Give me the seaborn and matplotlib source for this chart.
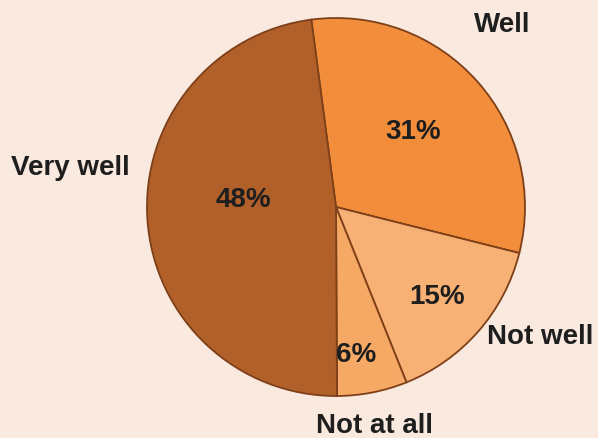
import matplotlib.pyplot as plt
import seaborn as sns

labels = ["Well", "Not well", "Not at all", "Very well"]
shares = [31, 15, 6, 48]
colors = ["#F28D3C", "#F7B174", "#F6A865", "#B2602A"]

# text placement (pixel coords, origin top-left)
label_pos = [(502, 25), (540, 337), (374, 426), (70, 168)]
pct_pos = [(413, 132), (437, 297), (356, 355), (243, 200)]

sns.set_theme(style="white")
plt.rcParams["font.family"] = ["Liberation Sans", "DejaVu Sans"]

W, H = 598, 438
fig = plt.figure(figsize=(W / 100, H / 100), dpi=100)
fig.patch.set_facecolor("#F9E9DF")
ax = fig.add_axes([0, 0, 1, 1])
ax.set_facecolor("#F9E9DF")

cx, cy, r = 336, 207, 189
ax.pie(shares, colors=colors, startangle=97.5, counterclock=False,
       center=(cx, H - cy), radius=r,
       wedgeprops=dict(edgecolor="#7E4019", linewidth=1.3))

for lab, (x, y) in zip(labels, label_pos):
    ax.text(x, H - y, lab, ha="center", va="center", fontsize=20,
            fontweight="bold", color="#1E1E1E")
for s, (x, y) in zip(shares, pct_pos):
    ax.text(x, H - y, f"{s}%", ha="center", va="center", fontsize=20,
            fontweight="bold", color="#1E1E1E")

ax.set_xlim(0, W)
ax.set_ylim(0, H)
ax.set_aspect("auto")
ax.axis("off")

fig.savefig("out.png", dpi=100, facecolor=fig.get_facecolor())
